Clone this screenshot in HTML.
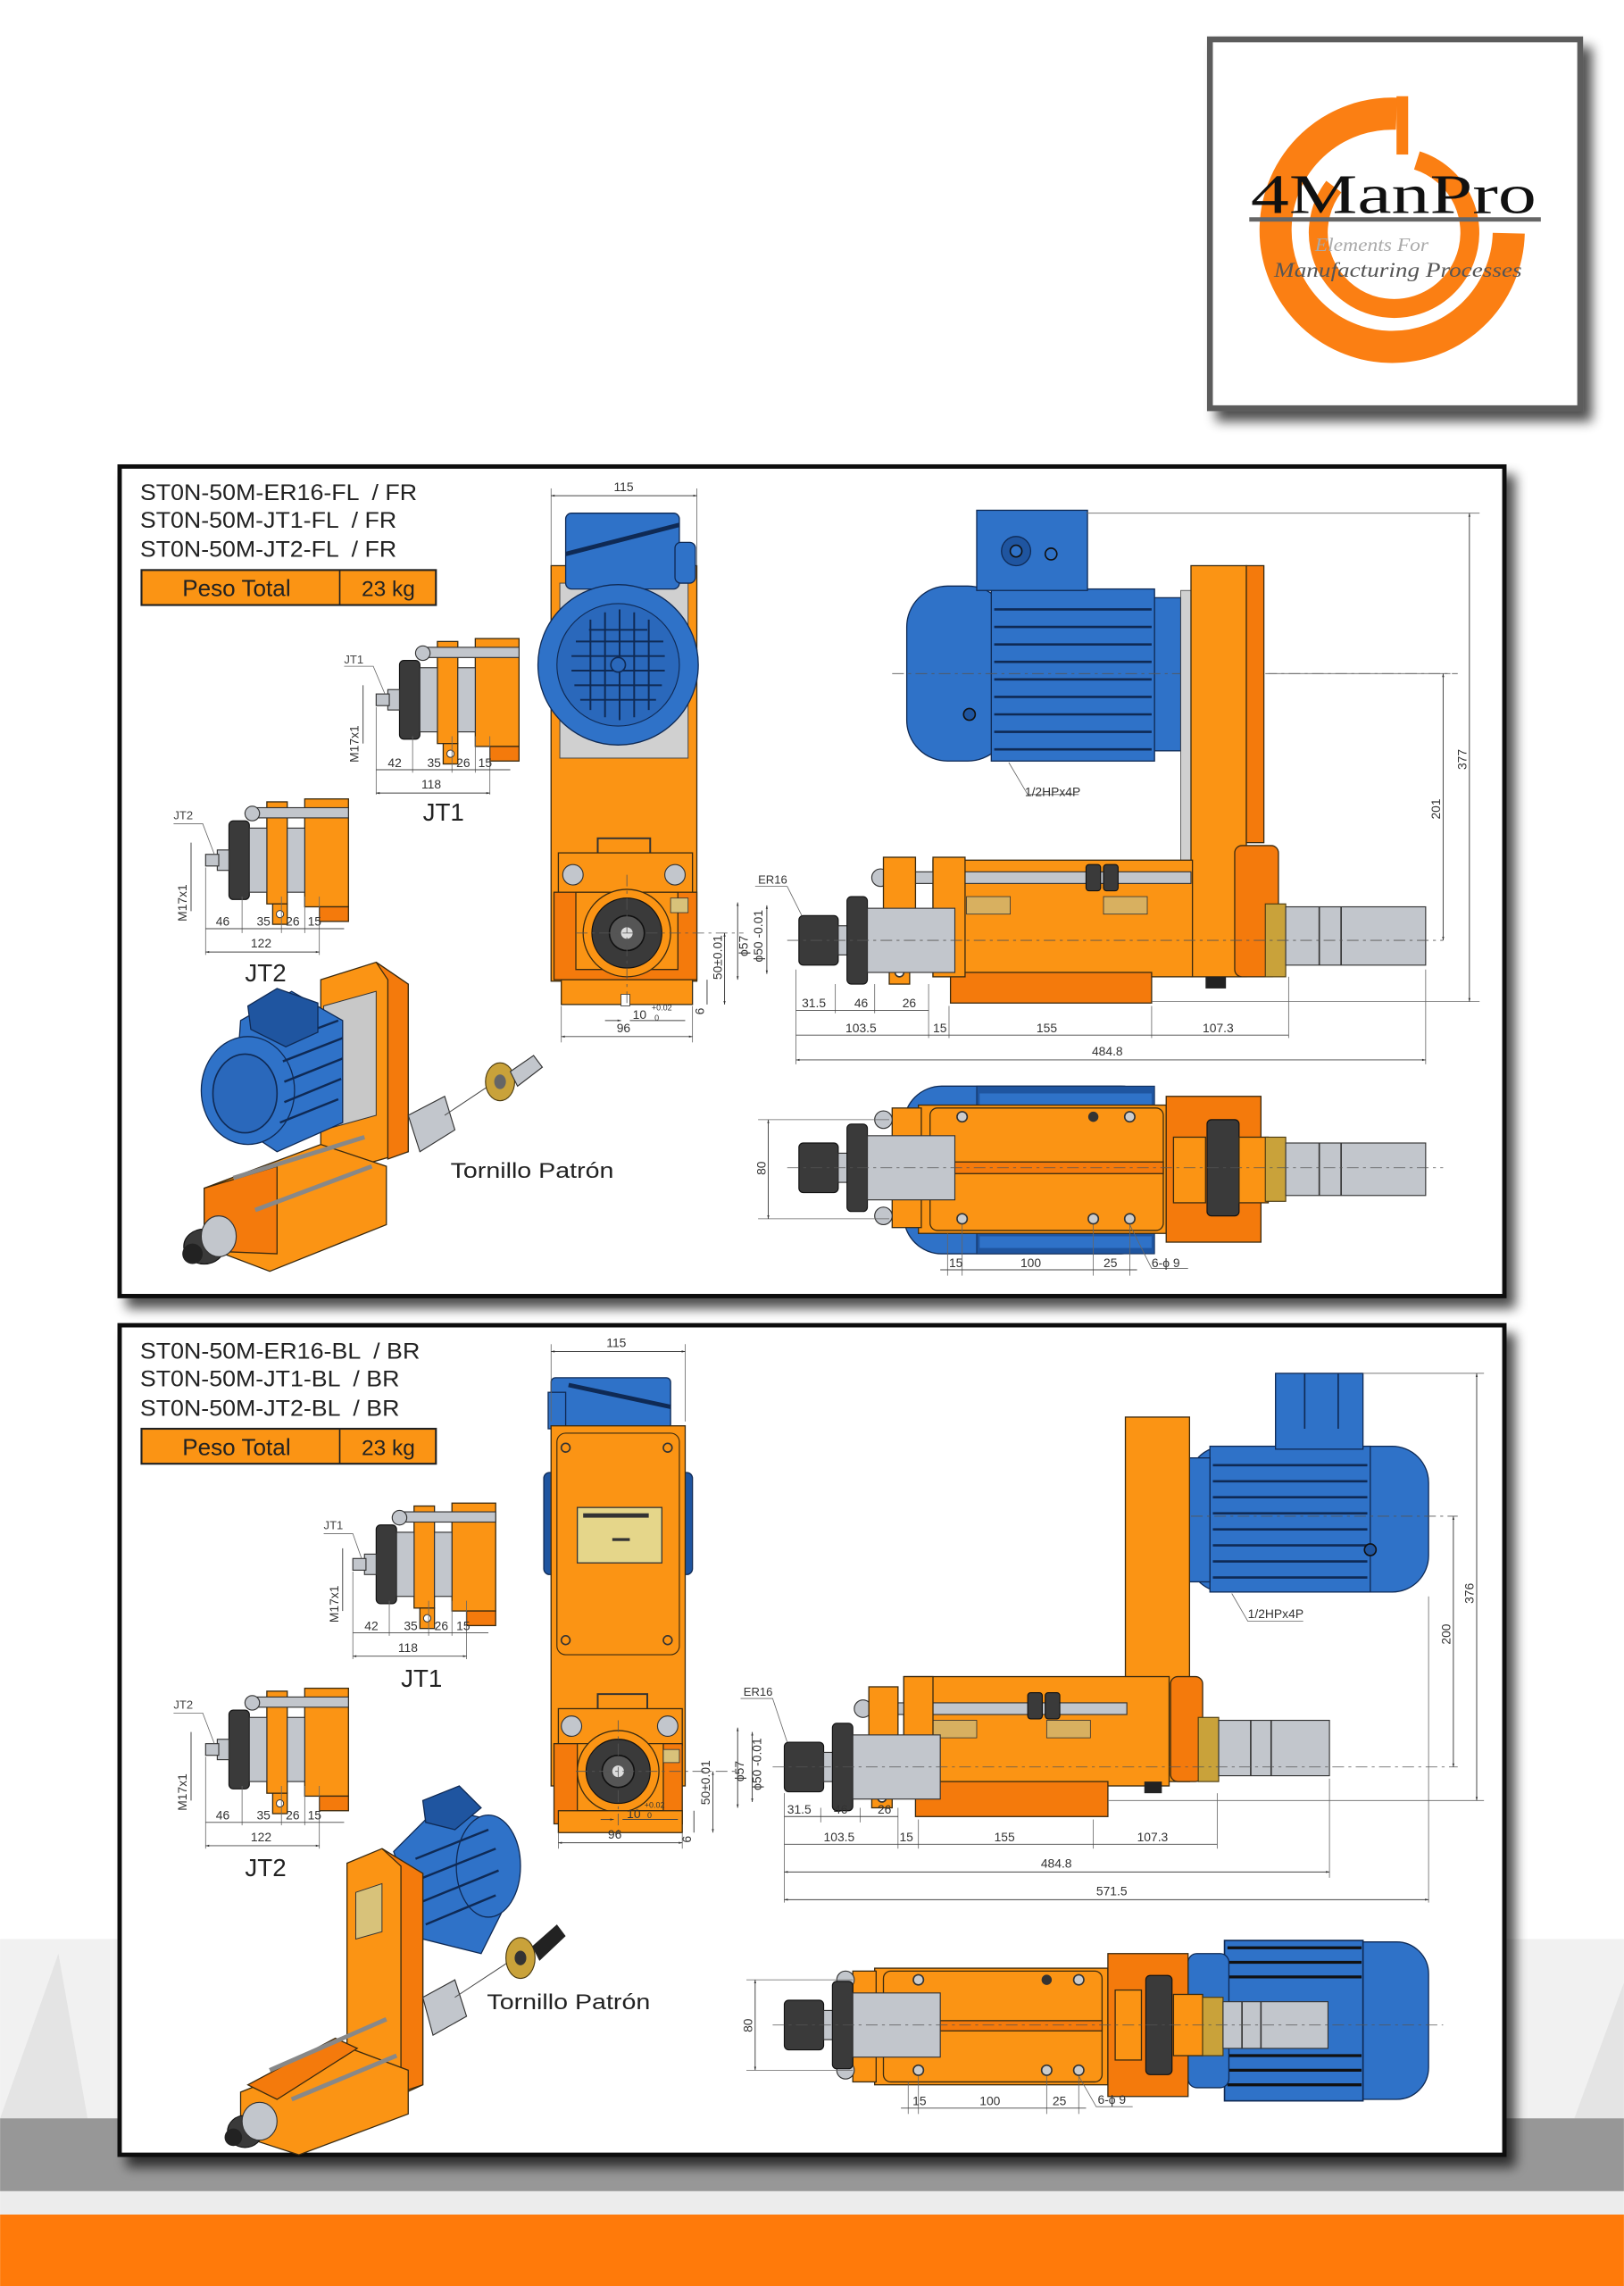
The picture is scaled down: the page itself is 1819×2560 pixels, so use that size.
<!DOCTYPE html>
<html><head><meta charset="utf-8"><style>
html,body{margin:0;padding:0;background:#fff;}
svg{display:block;}
text{font-family:"Liberation Sans",sans-serif;fill:#222;white-space:pre;}
.d{font-size:8.5px;fill:#333;}
.dl{stroke:#444;stroke-width:0.6;fill:none;}
.ext{stroke:#666;stroke-width:0.5;fill:none;}
.cl{stroke:#555;stroke-width:0.5;stroke-dasharray:8 3 2 3;fill:none;}
.o{fill:#fb9414;stroke:#3a2a10;stroke-width:0.8;}
.o2{fill:#f47a0c;stroke:#3a2a10;stroke-width:0.8;}
.b{fill:#2f72c8;stroke:#0f2a55;stroke-width:0.8;}
.b2{fill:#1f55a0;stroke:#0f2a55;stroke-width:0.8;}
.g{fill:#c2c6cc;stroke:#333;stroke-width:0.7;}
.k{fill:#3a3a3a;stroke:#111;stroke-width:0.7;}
.br{fill:#c9a23a;stroke:#4a3a10;stroke-width:0.7;}
.hd{font-size:15.5px;}
</style></head><body>
<svg width="1819" height="2560" viewBox="0 0 1114 1568" xmlns="http://www.w3.org/2000/svg">
<defs>
<marker id="a" viewBox="0 0 10 10" refX="10" refY="5" markerWidth="5" markerHeight="4" orient="auto-start-reverse"><path d="M0,2 L10,5 L0,8z" fill="#333"/></marker>
<filter id="sh" x="-5%" y="-5%" width="115%" height="115%"><feGaussianBlur in="SourceAlpha" stdDeviation="4"/><feOffset dx="6" dy="7"/><feComponentTransfer><feFuncA type="linear" slope="0.7"/></feComponentTransfer><feMerge><feMergeNode/><feMergeNode in="SourceGraphic"/></feMerge></filter>
<g id="jt">
<rect x="42" y="-40" width="14" height="70" class="o"/>
<rect x="46" y="30" width="10" height="14" class="o"/><circle cx="51" cy="37" r="2.5" fill="#fff" stroke="#333" stroke-width="0.6"/>
<rect x="68" y="-42" width="30" height="74" class="o"/><rect x="78" y="32" width="20" height="10" class="o2"/>
<rect x="30" y="-36" width="68" height="7" class="g"/><circle cx="32" cy="-32" r="5" class="g"/>
<rect x="16" y="-27" width="14" height="54" rx="3" class="k"/>
<rect x="30" y="-22" width="12" height="44" class="g"/><rect x="56" y="-22" width="12" height="44" class="g"/>
<rect x="8" y="-7" width="8" height="14" class="g"/><rect x="0" y="-4" width="9" height="8" class="g"/>
</g>
<g id="fs">
<rect x="0" y="-17" width="27" height="34" rx="3" class="k"/>
<rect x="27" y="-10" width="8" height="20" class="g"/>
<rect x="33" y="-30" width="14" height="60" rx="3" class="k"/>
<rect x="47" y="-22" width="60" height="44" class="g"/>
</g>
</defs>

<rect x="0" y="1330" width="1114" height="123" fill="#f1f1f1"/>
<path d="M0,1453 L40,1340 L60,1453z M1080,1453 L1114,1360 L1114,1453z" fill="#e4e4e4"/>
<rect x="0" y="1453" width="1114" height="50" fill="#979797"/>
<rect x="0" y="1503" width="1114" height="16" fill="#ececec"/>
<rect x="0" y="1519" width="1114" height="49" fill="#ff7a0a"/>

<!-- logo -->
<g filter="url(#sh)"><rect x="830" y="27" width="254" height="253" fill="#fff" stroke="#5c5c5c" stroke-width="4"/></g>
<path d="M958,78 A80,80 0 1 0 1035,160" fill="none" stroke="#fb7f13" stroke-width="22"/>
<path d="M972,110 A52,52 0 1 1 915,128" fill="none" stroke="#fb7f13" stroke-width="13"/>
<rect x="958" y="66" width="8" height="40" fill="#fb7f13"/>
<text x="858" y="146" textLength="196" lengthAdjust="spacingAndGlyphs" style="font-family:'Liberation Serif',serif;font-size:38px;fill:#111;">4ManPro</text>
<rect x="857" y="149" width="200" height="3" fill="#666"/>
<text x="902" y="172" textLength="78" lengthAdjust="spacingAndGlyphs" style="font-family:'Liberation Serif',serif;font-style:italic;font-size:13px;fill:#aaa;">Elements For</text>
<text x="874" y="190" textLength="170" lengthAdjust="spacingAndGlyphs" style="font-family:'Liberation Serif',serif;font-style:italic;font-size:14px;fill:#555;">Manufacturing Processes</text>

<!-- ================= PANEL 1 ================= -->
<g filter="url(#sh)"><rect x="82" y="320" width="950" height="569" fill="#fff" stroke="#111" stroke-width="3"/></g>
<text class="hd" x="96" y="343" textLength="190" lengthAdjust="spacingAndGlyphs">ST0N-50M-ER16-FL  / FR</text>
<text class="hd" x="96" y="362" textLength="176" lengthAdjust="spacingAndGlyphs">ST0N-50M-JT1-FL  / FR</text>
<text class="hd" x="96" y="382" textLength="176" lengthAdjust="spacingAndGlyphs">ST0N-50M-JT2-FL  / FR</text>
<rect x="97" y="391" width="202" height="24" fill="#fb9414" stroke="#222" stroke-width="1.3"/>
<line x1="233" y1="391" x2="233" y2="415" stroke="#222" stroke-width="1"/>
<text x="125" y="409" style="font-size:16px;">Peso Total</text>
<text x="248" y="409" style="font-size:15px;">23 kg</text>

<rect x="378" y="388" width="100" height="285" class="o"/>
<rect x="384" y="400" width="88" height="120" fill="#d0d0d0" stroke="#444" stroke-width="0.6"/>
<rect x="388" y="352" width="78" height="52" rx="4" class="b"/>
<rect x="463" y="372" width="14" height="28" rx="4" class="b"/>
<line x1="388" y1="380" x2="466" y2="360" stroke="#0f2a55" stroke-width="3"/>
<circle cx="424" cy="456" r="55" class="b"/><circle cx="424" cy="456" r="42" fill="#2a68bb" stroke="#0f2a55" stroke-width="0.7"/>
<g fill="none" stroke="#0f2a55" stroke-width="1.2">
<path d="M395,440 h60 M392,450 h64 M392,460 h64 M394,470 h60 M398,480 h52 M404,432 h40"/>
<path d="M405,425 v62 M415,420 v72 M425,418 v76 M435,420 v72 M445,425 v62"/>
</g>
<circle cx="424" cy="456" r="5" fill="#2a68bb" stroke="#0f2a55"/>
<rect x="410" y="575" width="36" height="22" fill="none" stroke="#333" stroke-width="1.2"/>
<rect x="383" y="585" width="92" height="28" class="o"/>
<circle cx="393" cy="600" r="7" class="g"/><circle cx="463" cy="600" r="7" class="g"/>
<rect x="380" y="612" width="98" height="60" class="o2"/>
<path d="M395,612 L395,665 L465,665 L465,612 Z" class="o"/>
<rect x="460" y="616" width="12" height="10" fill="#d8c27a" stroke="#333" stroke-width="0.5"/>
<circle cx="430" cy="640" r="30" class="o"/>
<circle cx="430" cy="640" r="24" class="k"/><circle cx="430" cy="640" r="12" fill="#555" stroke="#111"/><circle cx="430" cy="640" r="4" fill="#ddd"/>
<rect x="385" y="672" width="90" height="17" class="o"/><rect x="426" y="682" width="6" height="8" fill="#fff" stroke="#333" stroke-width="0.5"/>
<line class="cl" x1="430" y1="600" x2="430" y2="690"/><line class="cl" x1="395" y1="640" x2="510" y2="640"/>
<line class="ext" x1="378" y1="335" x2="378" y2="388"/><line class="ext" x1="478" y1="335" x2="478" y2="388"/>
<line class="dl" x1="378" y1="340" x2="478" y2="340" marker-start="url(#a)" marker-end="url(#a)"/>
<text class="d" x="421" y="337">115</text>
<line class="ext" x1="385" y1="690" x2="385" y2="715"/><line class="ext" x1="475" y1="690" x2="475" y2="715"/>
<line class="dl" x1="385" y1="711" x2="475" y2="711" marker-start="url(#a)" marker-end="url(#a)"/>
<text class="d" x="423" y="708">96</text>
<line class="dl" x1="415" y1="700" x2="426" y2="700" marker-end="url(#a)"/><line class="dl" x1="432" y1="700" x2="470" y2="700"/>
<text class="d" x="434" y="699">10</text><text x="447" y="693" style="font-size:5.5px;fill:#333;">+0.02</text><text x="449" y="700" style="font-size:5.5px;fill:#333;">0</text>
<line class="dl" x1="497" y1="640" x2="497" y2="689" marker-start="url(#a)" marker-end="url(#a)"/>
<text class="d" transform="translate(495,672) rotate(-90)">50±0.01</text>
<line class="dl" x1="485" y1="672" x2="485" y2="689"/><text class="d" transform="translate(483,696) rotate(-90)">6</text>

<use href="#jt" x="258" y="480"/>
<text x="236" y="455" style="font-size:8px;fill:#444;">JT1</text>
<path class="ext" d="M236,457 h20 L264,476"/>
<line class="dl" x1="249" y1="470" x2="249" y2="510"/>
<text class="d" transform="translate(246,523) rotate(-90)">M17x1</text>
<line class="ext" x1="258" y1="485" x2="258" y2="545"/><line class="ext" x1="283" y1="505" x2="283" y2="530"/><line class="ext" x1="310" y1="505" x2="310" y2="530"/><line class="ext" x1="326" y1="505" x2="326" y2="530"/><line class="ext" x1="336" y1="505" x2="336" y2="545"/>
<line class="dl" x1="258" y1="528" x2="350" y2="528"/>
<text class="d" x="266" y="526">42</text><text class="d" x="293" y="526">35</text><text class="d" x="313" y="526">26</text><text class="d" x="328" y="526">15</text>
<line class="dl" x1="258" y1="544" x2="336" y2="544" marker-start="url(#a)" marker-end="url(#a)"/>
<text class="d" x="289" y="541">118</text>
<text x="290" y="563" style="font-size:17px;">JT1</text>

<use href="#jt" x="141" y="590"/>
<text x="119" y="562" style="font-size:8px;fill:#444;">JT2</text>
<path class="ext" d="M119,565 h20 L147,586"/>
<line class="dl" x1="131" y1="578" x2="131" y2="625"/>
<text class="d" transform="translate(128,632) rotate(-90)">M17x1</text>
<line class="ext" x1="141" y1="595" x2="141" y2="655"/><line class="ext" x1="166" y1="615" x2="166" y2="640"/><line class="ext" x1="193" y1="615" x2="193" y2="640"/><line class="ext" x1="209" y1="615" x2="209" y2="640"/><line class="ext" x1="219" y1="615" x2="219" y2="655"/>
<line class="dl" x1="141" y1="637" x2="236" y2="637"/>
<text class="d" x="148" y="635">46</text><text class="d" x="176" y="635">35</text><text class="d" x="196" y="635">26</text><text class="d" x="211" y="635">15</text>
<line class="dl" x1="141" y1="653" x2="219" y2="653" marker-start="url(#a)" marker-end="url(#a)"/>
<text class="d" x="172" y="650">122</text>
<text x="168" y="673" style="font-size:17px;">JT2</text>

<polygon points="220,672 258,660 280,675 280,790 245,800 220,785" class="o"/>
<polygon points="258,660 280,675 280,790 266,795 266,672" class="o2"/>
<polygon points="222,690 258,680 258,765 222,775" fill="#c8c8c8" stroke="#333" stroke-width="0.6"/>
<polygon points="165,700 200,680 235,700 235,770 190,790 160,770" class="b"/>
<ellipse cx="170" cy="748" rx="32" ry="37" class="b"/><ellipse cx="168" cy="750" rx="22" ry="27" fill="#2a68bb" stroke="#0f2a55"/>
<g stroke="#0f2a55" stroke-width="1.5"><path d="M192,715 L232,700 M194,728 L235,712 M195,742 L235,726 M195,756 L234,740 M192,770 L232,754"/></g>
<polygon points="170,690 190,678 218,688 218,708 196,718 172,706" class="b2"/>
<polygon points="140,815 220,785 265,800 265,840 185,872 140,855" class="o"/>
<polygon points="140,815 190,800 190,860 140,858" class="o2"/>
<line x1="160" y1="808" x2="250" y2="780" stroke="#888" stroke-width="3"/>
<line x1="175" y1="830" x2="255" y2="800" stroke="#888" stroke-width="3"/>
<ellipse cx="140" cy="855" rx="14" ry="12" class="k"/><ellipse cx="150" cy="848" rx="12" ry="14" class="g"/>
<ellipse cx="132" cy="860" rx="7" ry="7" fill="#222"/>
<polygon points="280,765 305,752 312,775 288,790" class="g"/>
<line x1="305" y1="765" x2="335" y2="745" stroke="#444" stroke-width="0.6"/>
<ellipse cx="343" cy="742" rx="10" ry="13" class="br"/><ellipse cx="343" cy="742" rx="4" ry="5" fill="#666"/>
<polygon points="350,735 366,724 372,732 355,745" class="g"/>
<text x="309" y="808" textLength="112" lengthAdjust="spacingAndGlyphs" style="font-size:15px;">Tornillo Patrón</text>

<rect x="622" y="402" width="70" height="120" rx="28" class="b"/>
<rect x="680" y="404" width="112" height="118" class="b"/>
<g stroke="#0f2a55" stroke-width="1.6"><path d="M682,418 h108 M682,430 h108 M682,442 h108 M682,454 h108 M682,466 h108 M682,478 h108 M682,490 h108 M682,502 h108 M682,514 h108"/></g>
<rect x="792" y="410" width="18" height="105" class="b"/>
<rect x="670" y="350" width="76" height="55" class="b"/><circle cx="697" cy="378" r="10" class="b2"/><circle cx="697" cy="378" r="4" fill="#2f72c8" stroke="#111"/><circle cx="721" cy="380" r="4" fill="none" stroke="#111"/>
<circle cx="665" cy="490" r="4" fill="#1f55a0" stroke="#111"/>
<line class="cl" x1="612" y1="462" x2="1000" y2="462"/>
<rect x="810" y="405" width="8" height="195" fill="#d0d0d0" stroke="#444" stroke-width="0.5"/>
<rect x="817" y="388" width="38" height="282" class="o"/><rect x="855" y="388" width="12" height="190" class="o2"/>
<rect x="847" y="580" width="30" height="90" rx="5" class="o2"/>
<rect x="640" y="590" width="178" height="80" class="o"/>
<rect x="652" y="667" width="138" height="21" class="o2"/>
<rect x="600" y="598" width="217" height="8" class="g"/><circle cx="604" cy="602" r="6" class="g"/>
<rect x="745" y="593" width="10" height="18" rx="2" class="k"/><rect x="757" y="593" width="10" height="18" rx="2" class="k"/>
<rect x="663" y="615" width="30" height="12" fill="#d8b060" stroke="#333" stroke-width="0.5"/><rect x="757" y="615" width="30" height="12" fill="#d8b060" stroke="#333" stroke-width="0.5"/>
<rect x="640" y="588" width="22" height="82" class="o"/>
<rect x="606" y="588" width="22" height="70" class="o"/><rect x="610" y="655" width="14" height="20" class="o"/><circle cx="617" cy="667" r="3" fill="#fff" stroke="#333"/>
<use href="#fs" x="548" y="645"/>
<rect x="868" y="620" width="14" height="50" class="br"/>
<rect x="882" y="622" width="96" height="40" class="g"/><line x1="905" y1="622" x2="905" y2="662" stroke="#333"/><line x1="920" y1="622" x2="920" y2="662" stroke="#333"/>
<rect x="827" y="670" width="14" height="8" fill="#222"/>
<line class="cl" x1="540" y1="645" x2="990" y2="645"/>
<path class="ext" d="M692,523 L705,545 h35"/><text class="d" x="703" y="546">1/2HPx4P</text>
<line class="ext" x1="745" y1="352" x2="1015" y2="352"/><line class="ext" x1="790" y1="687" x2="1015" y2="687"/>
<line class="dl" x1="1008" y1="352" x2="1008" y2="687" marker-start="url(#a)" marker-end="url(#a)"/>
<text class="d" transform="translate(1006,528) rotate(-90)">377</text>
<line class="ext" x1="870" y1="462" x2="995" y2="462"/>
<line class="dl" x1="990" y1="462" x2="990" y2="645" marker-start="url(#a)" marker-end="url(#a)"/>
<text class="d" transform="translate(988,562) rotate(-90)">201</text>
<text x="520" y="606" style="font-size:8px;fill:#333;">ER16</text><path class="ext" d="M518,608 h22 L550,628"/>
<line class="dl" x1="506" y1="619" x2="506" y2="672" marker-start="url(#a)" marker-end="url(#a)"/><text class="d" transform="translate(513,656) rotate(-90)">ϕ57</text>
<line class="dl" x1="526" y1="621" x2="526" y2="668" marker-start="url(#a)" marker-end="url(#a)"/><text class="d" transform="translate(523,660) rotate(-90)">ϕ50 -0.01</text>
<line class="ext" x1="546" y1="665" x2="546" y2="730"/><line class="ext" x1="573" y1="675" x2="573" y2="695"/><line class="ext" x1="600" y1="675" x2="600" y2="695"/><line class="ext" x1="637" y1="675" x2="637" y2="712"/><line class="ext" x1="651" y1="690" x2="651" y2="712"/><line class="ext" x1="790" y1="690" x2="790" y2="712"/><line class="ext" x1="884" y1="670" x2="884" y2="712"/><line class="ext" x1="978" y1="665" x2="978" y2="730"/>
<line class="dl" x1="546" y1="693" x2="637" y2="693"/>
<text class="d" x="550" y="691">31.5</text><text class="d" x="586" y="691">46</text><text class="d" x="619" y="691">26</text>
<line class="dl" x1="546" y1="710" x2="884" y2="710" />
<text class="d" x="580" y="708">103.5</text><text class="d" x="640" y="708">15</text><text class="d" x="711" y="708">155</text><text class="d" x="825" y="708">107.3</text>
<line class="dl" x1="546" y1="727" x2="978" y2="727" marker-start="url(#a)" marker-end="url(#a)"/>
<text class="d" x="749" y="724">484.8</text>

<rect x="620" y="745" width="175" height="115" rx="26" class="b"/>
<rect x="670" y="745" width="122" height="115" fill="#1f55a0" stroke="#0f2a55" stroke-width="0.6"/>
<rect x="672" y="750" width="118" height="8" fill="#2f72c8"/><rect x="672" y="848" width="118" height="8" fill="#2f72c8"/>
<rect x="630" y="758" width="170" height="88" class="o"/>
<rect x="638" y="760" width="160" height="84" rx="5" class="o"/>
<rect x="638" y="797" width="160" height="8" class="o2"/>
<circle cx="660" cy="766" r="3.5" fill="#ccc" stroke="#333"/><circle cx="750" cy="766" r="3.5" fill="#333"/><circle cx="775" cy="766" r="3.5" fill="#ccc" stroke="#333"/>
<circle cx="660" cy="836" r="3.5" fill="#ccc" stroke="#333"/><circle cx="750" cy="836" r="3.5" fill="#ccc" stroke="#333"/><circle cx="775" cy="836" r="3.5" fill="#ccc" stroke="#333"/>
<rect x="612" y="760" width="20" height="82" class="o"/>
<circle cx="606" cy="768" r="6" class="g"/><circle cx="606" cy="834" r="6" class="g"/>
<use href="#fs" x="548" y="801"/>
<rect x="800" y="752" width="65" height="100" class="o2"/>
<rect x="805" y="780" width="22" height="45" class="o"/>
<rect x="828" y="768" width="22" height="66" rx="3" class="k"/>
<rect x="850" y="780" width="20" height="45" class="o"/>
<rect x="868" y="780" width="14" height="44" class="br"/>
<rect x="882" y="784" width="96" height="36" class="g"/><line x1="905" y1="784" x2="905" y2="820" stroke="#333"/><line x1="920" y1="784" x2="920" y2="820" stroke="#333"/>
<line class="cl" x1="540" y1="801" x2="990" y2="801"/>
<line class="ext" x1="520" y1="768" x2="610" y2="768"/><line class="ext" x1="520" y1="836" x2="610" y2="836"/>
<line class="dl" x1="527" y1="768" x2="527" y2="836" marker-start="url(#a)" marker-end="url(#a)"/>
<text class="d" transform="translate(525,806) rotate(-90)">80</text>
<line class="ext" x1="650" y1="846" x2="650" y2="875"/><line class="ext" x1="660" y1="840" x2="660" y2="875"/><line class="ext" x1="750" y1="840" x2="750" y2="875"/><line class="ext" x1="775" y1="840" x2="775" y2="875"/>
<line class="dl" x1="645" y1="871" x2="780" y2="871"/>
<text class="d" x="651" y="869">15</text><text class="d" x="700" y="869">100</text><text class="d" x="757" y="869">25</text>
<path class="ext" d="M775,840 L790,870 h25"/><text class="d" x="790" y="869">6-ϕ 9</text>

<!-- ================= PANEL 2 ================= -->
<g filter="url(#sh)"><rect x="82" y="909" width="950" height="569" fill="#fff" stroke="#111" stroke-width="3"/></g>
<text class="hd" x="96" y="932" textLength="192" lengthAdjust="spacingAndGlyphs">ST0N-50M-ER16-BL  / BR</text>
<text class="hd" x="96" y="951" textLength="178" lengthAdjust="spacingAndGlyphs">ST0N-50M-JT1-BL  / BR</text>
<text class="hd" x="96" y="971" textLength="178" lengthAdjust="spacingAndGlyphs">ST0N-50M-JT2-BL  / BR</text>
<rect x="97" y="980" width="202" height="24" fill="#fb9414" stroke="#222" stroke-width="1.3"/>
<line x1="233" y1="980" x2="233" y2="1004" stroke="#222" stroke-width="1"/>
<text x="125" y="998" style="font-size:16px;">Peso Total</text>
<text x="248" y="998" style="font-size:15px;">23 kg</text>

<rect x="373" y="1010" width="10" height="70" rx="4" class="b2"/><rect x="465" y="1010" width="10" height="70" rx="4" class="b2"/>
<rect x="378" y="945" width="82" height="35" rx="3" class="b"/><line x1="390" y1="950" x2="460" y2="965" stroke="#0f2a55" stroke-width="3"/>
<rect x="376" y="955" width="12" height="25" class="b"/>
<rect x="378" y="978" width="92" height="247" class="o"/>
<rect x="382" y="983" width="84" height="152" rx="6" fill="none" stroke="#3a2a10" stroke-width="0.7"/>
<circle cx="388" cy="993" r="3" fill="none" stroke="#333"/><circle cx="458" cy="993" r="3" fill="none" stroke="#333"/><circle cx="388" cy="1125" r="3" fill="none" stroke="#333"/><circle cx="458" cy="1125" r="3" fill="none" stroke="#333"/>
<rect x="396" y="1034" width="58" height="38" fill="#e5d68a" stroke="#333" stroke-width="0.8"/>
<rect x="400" y="1038" width="45" height="3" fill="#333"/><rect x="420" y="1055" width="12" height="2" fill="#333"/>
<rect x="410" y="1162" width="34" height="18" fill="none" stroke="#333" stroke-width="1.2"/>
<rect x="383" y="1172" width="85" height="25" class="o"/>
<circle cx="392" cy="1184" r="7" class="g"/><circle cx="458" cy="1184" r="7" class="g"/>
<rect x="380" y="1196" width="88" height="55" class="o2"/>
<path d="M396,1196 V1242 H455 V1196 Z" class="o"/>
<rect x="455" y="1200" width="11" height="9" fill="#d8c27a" stroke="#333" stroke-width="0.5"/>
<circle cx="424" cy="1215" r="28" class="o"/>
<circle cx="424" cy="1215" r="22" class="k"/><circle cx="424" cy="1215" r="11" fill="#555" stroke="#111"/><circle cx="424" cy="1215" r="4" fill="#ddd"/>
<rect x="383" y="1242" width="85" height="15" class="o"/>
<line class="cl" x1="424" y1="1180" x2="424" y2="1258"/><line class="cl" x1="395" y1="1215" x2="505" y2="1215"/>
<line class="ext" x1="378" y1="922" x2="378" y2="975"/><line class="ext" x1="470" y1="922" x2="470" y2="975"/>
<line class="dl" x1="378" y1="927" x2="470" y2="927" marker-start="url(#a)" marker-end="url(#a)"/>
<text class="d" x="416" y="924">115</text>
<line class="ext" x1="383" y1="1257" x2="383" y2="1268"/><line class="ext" x1="468" y1="1257" x2="468" y2="1268"/>
<line class="dl" x1="383" y1="1264" x2="468" y2="1264" marker-start="url(#a)" marker-end="url(#a)"/>
<text class="d" x="417" y="1261">96</text>
<line class="dl" x1="412" y1="1248" x2="421" y2="1248" marker-end="url(#a)"/><line class="dl" x1="427" y1="1248" x2="465" y2="1248"/>
<text class="d" x="430" y="1247">10</text><text x="442" y="1240" style="font-size:5.5px;fill:#333;">+0.02</text><text x="444" y="1247" style="font-size:5.5px;fill:#333;">0</text>
<line class="dl" x1="489" y1="1215" x2="489" y2="1257" marker-start="url(#a)" marker-end="url(#a)"/>
<text class="d" transform="translate(487,1238) rotate(-90)">50±0.01</text>
<line class="dl" x1="476" y1="1242" x2="476" y2="1257"/><text class="d" transform="translate(474,1264) rotate(-90)">6</text>

<use href="#jt" x="242" y="1073"/>
<text x="222" y="1049" style="font-size:8px;fill:#444;">JT1</text>
<path class="ext" d="M222,1052 h20 L248,1069"/>
<line class="dl" x1="235" y1="1062" x2="235" y2="1105"/>
<text class="d" transform="translate(232,1113) rotate(-90)">M17x1</text>
<line class="ext" x1="242" y1="1078" x2="242" y2="1138"/><line class="ext" x1="267" y1="1098" x2="267" y2="1122"/><line class="ext" x1="294" y1="1098" x2="294" y2="1122"/><line class="ext" x1="310" y1="1098" x2="310" y2="1122"/><line class="ext" x1="320" y1="1098" x2="320" y2="1138"/>
<line class="dl" x1="242" y1="1120" x2="335" y2="1120"/>
<text class="d" x="250" y="1118">42</text><text class="d" x="277" y="1118">35</text><text class="d" x="298" y="1118">26</text><text class="d" x="313" y="1118">15</text>
<line class="dl" x1="242" y1="1136" x2="320" y2="1136" marker-start="url(#a)" marker-end="url(#a)"/>
<text class="d" x="273" y="1133">118</text>
<text x="275" y="1157" style="font-size:17px;">JT1</text>

<use href="#jt" x="141" y="1200"/>
<text x="119" y="1172" style="font-size:8px;fill:#444;">JT2</text>
<path class="ext" d="M119,1175 h20 L147,1196"/>
<line class="dl" x1="131" y1="1188" x2="131" y2="1235"/>
<text class="d" transform="translate(128,1242) rotate(-90)">M17x1</text>
<line class="ext" x1="141" y1="1205" x2="141" y2="1268"/><line class="ext" x1="166" y1="1225" x2="166" y2="1252"/><line class="ext" x1="193" y1="1225" x2="193" y2="1252"/><line class="ext" x1="209" y1="1225" x2="209" y2="1252"/><line class="ext" x1="219" y1="1225" x2="219" y2="1268"/>
<line class="dl" x1="141" y1="1250" x2="236" y2="1250"/>
<text class="d" x="148" y="1248">46</text><text class="d" x="176" y="1248">35</text><text class="d" x="196" y="1248">26</text><text class="d" x="211" y="1248">15</text>
<line class="dl" x1="141" y1="1266" x2="219" y2="1266" marker-start="url(#a)" marker-end="url(#a)"/>
<text class="d" x="172" y="1263">122</text>
<text x="168" y="1287" style="font-size:17px;">JT2</text>

<polygon points="270,1270 300,1240 345,1250 355,1290 330,1340 290,1330" class="b"/>
<ellipse cx="335" cy="1280" rx="22" ry="35" class="b"/>
<g stroke="#0f2a55" stroke-width="1.5"><path d="M285,1275 L335,1255 M285,1290 L340,1268 M288,1305 L342,1283 M292,1320 L340,1300"/></g>
<polygon points="290,1235 315,1225 330,1240 312,1255 292,1250" class="b2"/>
<polygon points="238,1278 262,1268 290,1285 290,1430 268,1440 238,1420" class="o"/>
<polygon points="262,1268 290,1285 290,1430 275,1435 275,1280" class="o2"/>
<polygon points="244,1298 262,1292 262,1325 244,1330" fill="#d8c27a" stroke="#333" stroke-width="0.6"/>
<polygon points="165,1435 240,1405 280,1420 280,1450 205,1478 165,1465" class="o"/>
<polygon points="170,1430 230,1398 245,1405 190,1440" class="o2"/>
<line x1="185" y1="1420" x2="265" y2="1385" stroke="#888" stroke-width="3"/>
<line x1="200" y1="1440" x2="272" y2="1410" stroke="#888" stroke-width="3"/>
<ellipse cx="168" cy="1462" rx="12" ry="11" class="k"/><ellipse cx="178" cy="1455" rx="12" ry="13" class="g"/>
<ellipse cx="160" cy="1466" rx="6" ry="6" fill="#222"/>
<polygon points="290,1370 312,1358 320,1383 297,1396" class="g"/>
<line x1="312" y1="1370" x2="350" y2="1345" stroke="#444" stroke-width="0.6"/>
<ellipse cx="357" cy="1343" rx="10" ry="14" class="br"/><ellipse cx="357" cy="1343" rx="4" ry="5" fill="#333"/>
<polygon points="365,1335 382,1320 388,1328 370,1345" fill="#222"/>
<text x="334" y="1378" textLength="112" lengthAdjust="spacingAndGlyphs" style="font-size:15px;">Tornillo Patrón</text>

<rect x="815" y="992" width="165" height="100" rx="25" class="b"/>
<rect x="830" y="992" width="110" height="100" class="b"/>
<g stroke="#0f2a55" stroke-width="1.6"><path d="M832,1005 h106 M832,1016 h106 M832,1027 h106 M832,1038 h106 M832,1049 h106 M832,1060 h106 M832,1071 h106 M832,1082 h106"/></g>
<rect x="815" y="1000" width="15" height="85" class="b"/>
<rect x="875" y="942" width="60" height="52" class="b"/><line x1="895" y1="942" x2="895" y2="980" stroke="#0f2a55"/><line x1="918" y1="942" x2="918" y2="980" stroke="#0f2a55"/>
<circle cx="940" cy="1063" r="4" fill="#1f55a0" stroke="#111"/>
<line class="cl" x1="785" y1="1040" x2="1000" y2="1040"/>
<rect x="808" y="990" width="8" height="147" fill="#d0d0d0" stroke="#444" stroke-width="0.5"/>
<rect x="772" y="972" width="44" height="250" class="o"/>
<rect x="803" y="1150" width="22" height="72" rx="5" class="o2"/>
<rect x="620" y="1150" width="182" height="75" class="o"/>
<rect x="628" y="1222" width="132" height="24" class="o2"/>
<rect x="588" y="1168" width="185" height="8" class="g"/><circle cx="592" cy="1172" r="6" class="g"/>
<rect x="705" y="1161" width="10" height="18" rx="2" class="k"/><rect x="717" y="1161" width="10" height="18" rx="2" class="k"/>
<rect x="640" y="1180" width="30" height="12" fill="#d8b060" stroke="#333" stroke-width="0.5"/><rect x="718" y="1180" width="30" height="12" fill="#d8b060" stroke="#333" stroke-width="0.5"/>
<rect x="620" y="1150" width="20" height="75" class="o"/>
<rect x="596" y="1157" width="20" height="68" class="o"/><rect x="598" y="1222" width="14" height="18" class="o"/><circle cx="605" cy="1233" r="3" fill="#fff" stroke="#333"/>
<use href="#fs" x="538" y="1212"/>
<rect x="822" y="1178" width="14" height="44" class="br"/>
<rect x="836" y="1180" width="76" height="38" class="g"/><line x1="858" y1="1180" x2="858" y2="1218" stroke="#333"/><line x1="872" y1="1180" x2="872" y2="1218" stroke="#333"/>
<rect x="785" y="1222" width="12" height="8" fill="#222"/>
<line class="cl" x1="530" y1="1212" x2="1000" y2="1212"/>
<path class="ext" d="M845,1093 L856,1112 h38"/><text class="d" x="856" y="1110">1/2HPx4P</text>
<line class="ext" x1="935" y1="942" x2="1018" y2="942"/><line class="ext" x1="760" y1="1235" x2="1018" y2="1235"/>
<line class="dl" x1="1013" y1="942" x2="1013" y2="1235" marker-start="url(#a)" marker-end="url(#a)"/>
<text class="d" transform="translate(1011,1100) rotate(-90)">376</text>
<line class="dl" x1="997" y1="1040" x2="997" y2="1212" marker-start="url(#a)" marker-end="url(#a)"/>
<text class="d" transform="translate(995,1128) rotate(-90)">200</text>
<text x="510" y="1163" style="font-size:8px;fill:#333;">ER16</text><path class="ext" d="M508,1165 h22 L540,1195"/>
<line class="dl" x1="506" y1="1185" x2="506" y2="1240" marker-start="url(#a)" marker-end="url(#a)"/><text class="d" transform="translate(510,1222) rotate(-90)">ϕ57</text>
<line class="dl" x1="516" y1="1188" x2="516" y2="1236" marker-start="url(#a)" marker-end="url(#a)"/><text class="d" transform="translate(522,1228) rotate(-90)">ϕ50 -0.01</text>
<line class="ext" x1="538" y1="1230" x2="538" y2="1305"/><line class="ext" x1="563" y1="1240" x2="563" y2="1250"/><line class="ext" x1="590" y1="1240" x2="590" y2="1250"/><line class="ext" x1="616" y1="1240" x2="616" y2="1268"/><line class="ext" x1="630" y1="1248" x2="630" y2="1268"/><line class="ext" x1="750" y1="1248" x2="750" y2="1268"/><line class="ext" x1="835" y1="1230" x2="835" y2="1268"/><line class="ext" x1="912" y1="1220" x2="912" y2="1288"/><line class="ext" x1="980" y1="1095" x2="980" y2="1305"/>
<line class="dl" x1="538" y1="1246" x2="616" y2="1246"/>
<text class="d" x="540" y="1244">31.5</text><text class="d" x="572" y="1244">46</text><text class="d" x="602" y="1244">26</text>
<line class="dl" x1="538" y1="1265" x2="835" y2="1265"/>
<text class="d" x="565" y="1263">103.5</text><text class="d" x="617" y="1263">15</text><text class="d" x="682" y="1263">155</text><text class="d" x="780" y="1263">107.3</text>
<line class="dl" x1="538" y1="1284" x2="912" y2="1284" marker-start="url(#a)" marker-end="url(#a)"/>
<text class="d" x="714" y="1281">484.8</text>
<line class="dl" x1="538" y1="1303" x2="980" y2="1303" marker-start="url(#a)" marker-end="url(#a)"/>
<text class="d" x="752" y="1300">571.5</text>

<rect x="858" y="1332" width="122" height="108" rx="22" class="b"/>
<rect x="840" y="1331" width="95" height="110" fill="#2f72c8" stroke="#0f2a55"/>
<g stroke="#111" stroke-width="2"><path d="M842,1336 h92 M842,1346 h92 M842,1356 h92 M842,1410 h92 M842,1420 h92 M842,1430 h92"/></g>
<rect x="815" y="1340" width="28" height="92" rx="6" class="b"/>
<rect x="600" y="1350" width="160" height="80" class="o"/>
<rect x="606" y="1352" width="150" height="76" rx="5" class="o"/>
<rect x="606" y="1386" width="150" height="7" class="o2"/>
<circle cx="630" cy="1358" r="3.5" fill="#ccc" stroke="#333"/><circle cx="718" cy="1358" r="3.5" fill="#333"/><circle cx="740" cy="1358" r="3.5" fill="#ccc" stroke="#333"/>
<circle cx="630" cy="1420" r="3.5" fill="#ccc" stroke="#333"/><circle cx="718" cy="1420" r="3.5" fill="#ccc" stroke="#333"/><circle cx="740" cy="1420" r="3.5" fill="#ccc" stroke="#333"/>
<rect x="585" y="1352" width="16" height="76" class="o"/>
<circle cx="580" cy="1358" r="6" class="g"/><circle cx="580" cy="1420" r="6" class="g"/>
<use href="#fs" x="538" y="1389"/>
<rect x="760" y="1340" width="55" height="98" class="o2"/>
<rect x="765" y="1365" width="18" height="48" class="o"/>
<rect x="786" y="1355" width="18" height="68" rx="3" class="k"/>
<rect x="805" y="1368" width="20" height="42" class="o"/>
<rect x="825" y="1370" width="14" height="40" class="br"/>
<rect x="839" y="1373" width="72" height="32" class="g"/><line x1="852" y1="1373" x2="852" y2="1405" stroke="#333"/><line x1="865" y1="1373" x2="865" y2="1405" stroke="#333"/>
<line class="cl" x1="530" y1="1389" x2="990" y2="1389"/>
<line class="ext" x1="512" y1="1358" x2="585" y2="1358"/><line class="ext" x1="512" y1="1420" x2="585" y2="1420"/>
<line class="dl" x1="518" y1="1358" x2="518" y2="1420" marker-start="url(#a)" marker-end="url(#a)"/>
<text class="d" transform="translate(516,1394) rotate(-90)">80</text>
<line class="ext" x1="623" y1="1428" x2="623" y2="1450"/><line class="ext" x1="630" y1="1424" x2="630" y2="1450"/><line class="ext" x1="718" y1="1424" x2="718" y2="1450"/><line class="ext" x1="740" y1="1424" x2="740" y2="1450"/>
<line class="dl" x1="618" y1="1446" x2="745" y2="1446"/>
<text class="d" x="626" y="1444">15</text><text class="d" x="672" y="1444">100</text><text class="d" x="722" y="1444">25</text>
<path class="ext" d="M740,1424 L752,1445 h25"/><text class="d" x="753" y="1443">6-ϕ 9</text>
</svg>
</body></html>
